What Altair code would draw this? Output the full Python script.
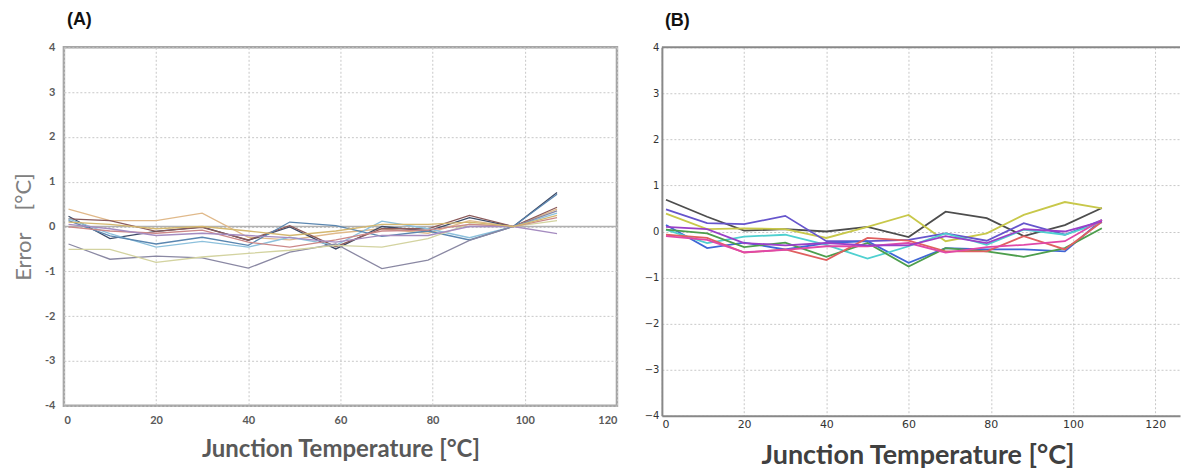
import altair as alt
import pandas as pd

# ---------------- data ----------------
temps_a = [1, 10, 20, 30, 40, 49, 59, 69, 79, 88, 97.5, 107]
series_a = {
    "a1": [0.39, 0.13, 0.13, 0.30, -0.24, -0.30, -0.15, -0.05, -0.15, 0.13, 0.0, 0.39],
    "a2": [0.23, -0.27, -0.11, -0.01, -0.31, -0.01, -0.50, 0.0, -0.10, 0.20, 0.0, 0.76],
    "a3": [0.17, 0.13, -0.11, -0.02, -0.30, 0.02, -0.45, -0.05, -0.05, 0.25, 0.0, 0.43],
    "a4": [0.17, -0.16, -0.46, -0.33, -0.46, -0.24, -0.42, 0.12, -0.05, -0.25, 0.0, 0.30],
    "a5": [0.13, -0.21, -0.39, -0.24, -0.42, 0.10, 0.02, -0.22, -0.10, -0.30, 0.0, 0.72],
    "a6": [-0.39, -0.73, -0.66, -0.70, -0.93, -0.57, -0.39, -0.94, -0.75, -0.31, 0.0, 0.35],
    "a7": [-0.51, -0.51, -0.80, -0.68, -0.60, -0.53, -0.42, -0.46, -0.27, 0.06, 0.0, 0.13],
    "a8": [-0.01, -0.10, -0.15, -0.08, -0.35, -0.46, -0.30, -0.10, -0.08, 0.05, 0.0, 0.20],
    "a9": [0.05, -0.05, -0.20, -0.15, -0.20, -0.25, -0.35, -0.20, -0.20, 0.0, 0.0, -0.16],
    "a10": [0.10, 0.05, -0.05, 0.0, -0.10, -0.20, -0.10, 0.05, 0.05, 0.10, 0.0, 0.25],
}
colors_a = ["#e0b98a", "#3d4a66", "#8b5a5a", "#8cc0dc", "#5a86b0",
            "#8a88a3", "#d3d3a0", "#cc8888", "#a58cc0", "#d4b870"]

temps_b = [1, 11, 20, 30, 40, 50, 60, 69, 79, 88, 98, 107]
series_b = {
    "b1": [0.69, 0.32, 0.02, 0.05, 0.0, 0.10, -0.12, 0.43, 0.29, -0.10, 0.14, 0.51],
    "b2": [0.39, 0.05, 0.07, 0.05, -0.14, 0.10, 0.36, -0.21, -0.04, 0.36, 0.64, 0.50],
    "b3": [0.48, 0.18, 0.16, 0.34, -0.21, -0.21, -0.18, -0.04, -0.20, 0.18, -0.07, 0.25],
    "b4": [0.14, -0.36, -0.24, -0.39, -0.25, -0.21, -0.68, -0.36, -0.39, -0.39, -0.43, 0.25],
    "b5": [0.04, -0.25, -0.11, -0.07, -0.29, -0.59, -0.32, -0.04, -0.29, 0.04, -0.07, 0.20],
    "b6": [0.04, -0.04, -0.34, -0.24, -0.55, -0.25, -0.76, -0.36, -0.43, -0.55, -0.36, 0.07],
    "b7": [-0.07, -0.14, -0.46, -0.39, -0.62, -0.14, -0.20, -0.43, -0.43, -0.10, -0.39, 0.21],
    "b8": [-0.10, -0.18, -0.45, -0.40, -0.32, -0.32, -0.25, -0.46, -0.34, -0.29, -0.21, 0.25],
    "b9": [0.10, 0.05, -0.25, -0.30, -0.25, -0.30, -0.30, -0.10, -0.25, 0.05, 0.0, 0.22],
}
colors_b = ["#4d4d4d", "#c8c84a", "#6655cc", "#3f66d6", "#4fd0d0",
            "#4c9e4c", "#e06060", "#e048a8", "#9a40c8"]

x_ticks = [0, 20, 40, 60, 80, 100, 120]
y_ticks = [-4, -3, -2, -1, 0, 1, 2, 3, 4]

NB = "\u00a0"
y_title_a = "Error" + NB * 4 + "[°C]"
x_title = "Junction Temperature [°C]"


def long_df(temps, series):
    rows = []
    for name, vals in series.items():
        for t, v in zip(temps, vals):
            rows.append({"s": name, "T": t, "E": v})
    return pd.DataFrame(rows)


dfa = long_df(temps_a, series_a)
dfb = long_df(temps_b, series_b)

# ---------------- panel A ----------------
xa = alt.X("T:Q", scale=alt.Scale(domain=[0, 120], nice=False),
           axis=alt.Axis(values=x_ticks, title=x_title,
                         titleFont="Lato", titleFontSize=24, titleFontWeight="bold",
                         titleColor="#595959", titlePadding=12,
                         labelFont="Lato", labelFontSize=11, labelColor="#595959",
                         labelFontWeight="bold", labelPadding=9, ticks=False, domain=False,
                         grid=True, gridDash=[2, 2], gridColor="#c8c8c8"))
ya = alt.Y("E:Q", scale=alt.Scale(domain=[-4, 4], nice=False),
           axis=alt.Axis(values=y_ticks, title=y_title_a,
                         titleFont="Lato", titleFontSize=22, titleFontWeight="normal",
                         titleColor="#808080", titlePadding=9,
                         labelFont="Lato", labelFontSize=11, labelColor="#595959",
                         labelFontWeight="bold", labelPadding=9, ticks=False, domain=False,
                         labelExpr="datum.value",
                         grid=True, gridDash=[2, 2], gridColor="#c8c8c8"))

lines_a = alt.Chart(dfa).mark_line(strokeWidth=1.3).encode(
    x=xa, y=ya,
    color=alt.Color("s:N", scale=alt.Scale(domain=list(series_a.keys()), range=colors_a), legend=None),
)
zero_a = alt.Chart(pd.DataFrame({"E": [0]})).mark_rule(color="#b0b0b0", strokeWidth=1.5).encode(y="E:Q")

panel_a = alt.layer(zero_a, lines_a).properties(
    width=554, height=359,
    title=alt.TitleParams("(A)", anchor="start", frame="group", font="Liberation Sans",
                          fontSize=18, fontWeight="bold", color="#111111", offset=12, dx=3),
    view=alt.ViewBackground(stroke="#a6a6a6", strokeWidth=2.5),
)

# ---------------- panel B ----------------
xb = alt.X("T:Q", scale=alt.Scale(domain=[0, 126], nice=False),
           axis=alt.Axis(values=x_ticks, title=x_title,
                         titleFont="Lato", titleFontSize=27, titleFontWeight="bold",
                         titleColor="#404040", titlePadding=13, titleX=256,
                         labelFont="DejaVu Sans", labelFontSize=11, labelColor="#333333",
                         labelPadding=3, ticks=False, domain=True, domainColor="#888888",
                         domainWidth=2,
                         grid=True, gridDash=[2, 2], gridColor="#c8c8c8"))
yb = alt.Y("E:Q", scale=alt.Scale(domain=[-4, 4], nice=False),
           axis=alt.Axis(values=y_ticks, title=None,
                         labelFont="DejaVu Sans", labelFontSize=10, labelColor="#333333",
                         labelPadding=3, ticks=False, domain=True, domainColor="#888888",
                         domainWidth=2,
                         grid=True, gridDash=[2, 2], gridColor="#c8c8c8"))

lines_b = alt.Chart(dfb).mark_line(strokeWidth=1.8).encode(
    x=xb, y=yb,
    color=alt.Color("s:N", scale=alt.Scale(domain=list(series_b.keys()), range=colors_b), legend=None),
)
top_b = alt.Chart(pd.DataFrame({"E": [4]})).mark_rule(color="#888888", strokeWidth=2).encode(y="E:Q")

panel_b = alt.layer(lines_b, top_b).properties(
    width=519, height=369,
    title=alt.TitleParams("(B)", anchor="start", frame="group", font="Liberation Sans",
                          fontSize=18, fontWeight="bold", color="#111111", offset=12, dx=3),
)

chart = alt.hconcat(panel_a, panel_b, spacing=45, bounds="flush").resolve_scale(
    color="independent", x="independent", y="independent"
).properties(
    padding={"left": 3, "top": 1, "right": 0, "bottom": 0}
).configure_view(stroke=None)

chart.save("out.html", embed_options={"renderer": "svg", "actions": False})
